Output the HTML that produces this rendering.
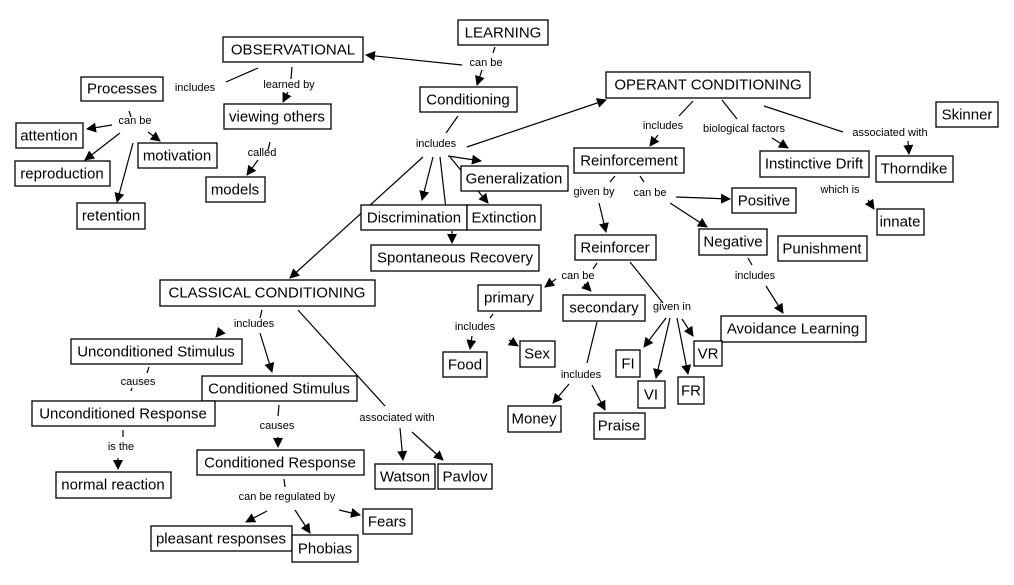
<!DOCTYPE html>
<html><head><meta charset="utf-8"><style>
html,body{margin:0;padding:0;background:#fff;}
svg{display:block}
.n{fill:#fff;stroke:#000;stroke-width:1.3}
.t{font-family:"Liberation Sans",sans-serif;font-size:15px;fill:#000;text-anchor:middle;dominant-baseline:central}
.l{font-family:"Liberation Sans",sans-serif;font-size:11px;fill:#000;text-anchor:middle;dominant-baseline:central}
line{stroke:#000;stroke-width:1.2}
</style></head><body>
<svg width="1014" height="585" viewBox="0 0 1014 585" xmlns="http://www.w3.org/2000/svg">
<defs><marker id="a" markerWidth="10" markerHeight="10" refX="9" refY="5" orient="auto" markerUnits="userSpaceOnUse"><path d="M0,0 L10,5 L0,10 z" fill="#000"/></marker></defs>
<g>
<line x1="495" y1="47" x2="493" y2="53"/>
<line x1="462" y1="65" x2="366" y2="55" marker-end="url(#a)"/>
<line x1="482" y1="70" x2="477" y2="85" marker-end="url(#a)"/>
<line x1="258" y1="68" x2="226" y2="82"/>
<line x1="292" y1="67" x2="291" y2="79"/>
<line x1="288" y1="92" x2="283" y2="102" marker-end="url(#a)"/>
<line x1="129" y1="111" x2="131" y2="117"/>
<line x1="112" y1="125" x2="87" y2="129" marker-end="url(#a)"/>
<line x1="120" y1="133" x2="85" y2="160" marker-end="url(#a)"/>
<line x1="133" y1="143" x2="117" y2="202" marker-end="url(#a)"/>
<line x1="148" y1="132" x2="160" y2="141" marker-end="url(#a)"/>
<line x1="270" y1="142" x2="268" y2="150"/>
<line x1="258" y1="160" x2="247" y2="175" marker-end="url(#a)"/>
<line x1="458" y1="116" x2="446" y2="133"/>
<line x1="467" y1="147" x2="606" y2="100" marker-end="url(#a)"/>
<line x1="448" y1="156" x2="481" y2="161" marker-end="url(#a)"/>
<line x1="450" y1="157" x2="488" y2="203" marker-end="url(#a)"/>
<line x1="433" y1="157" x2="422" y2="200" marker-end="url(#a)"/>
<line x1="440" y1="157" x2="447" y2="218"/>
<line x1="452" y1="231" x2="452" y2="243" marker-end="url(#a)"/>
<line x1="423" y1="157" x2="290" y2="278" marker-end="url(#a)"/>
<line x1="693" y1="101" x2="679" y2="116"/>
<line x1="658" y1="135" x2="650" y2="146" marker-end="url(#a)"/>
<line x1="722" y1="100" x2="737" y2="119"/>
<line x1="772" y1="138" x2="788" y2="148" marker-end="url(#a)"/>
<line x1="764" y1="106" x2="843" y2="132"/>
<line x1="908" y1="141" x2="909" y2="154" marker-end="url(#a)"/>
<line x1="615" y1="176" x2="610" y2="182"/>
<line x1="599" y1="203" x2="606" y2="232" marker-end="url(#a)"/>
<line x1="640" y1="176" x2="644" y2="182"/>
<line x1="676" y1="197" x2="730" y2="199" marker-end="url(#a)"/>
<line x1="670" y1="203" x2="707" y2="227" marker-end="url(#a)"/>
<line x1="868" y1="200" x2="874" y2="209" marker-end="url(#a)"/>
<line x1="597" y1="263" x2="593" y2="269"/>
<line x1="556" y1="279" x2="545" y2="287" marker-end="url(#a)"/>
<line x1="584" y1="284" x2="591" y2="291" marker-end="url(#a)"/>
<line x1="630" y1="262" x2="663" y2="303"/>
<line x1="666" y1="318" x2="644" y2="347" marker-end="url(#a)"/>
<line x1="670" y1="318" x2="656" y2="378" marker-end="url(#a)"/>
<line x1="677" y1="318" x2="688" y2="374" marker-end="url(#a)"/>
<line x1="682" y1="319" x2="693" y2="336" marker-end="url(#a)"/>
<line x1="748" y1="258" x2="752" y2="265"/>
<line x1="766" y1="286" x2="783" y2="313" marker-end="url(#a)"/>
<line x1="493" y1="314" x2="490" y2="318"/>
<line x1="472" y1="336" x2="470" y2="349" marker-end="url(#a)"/>
<line x1="509" y1="340" x2="518" y2="346" marker-end="url(#a)"/>
<line x1="597" y1="322" x2="587" y2="363"/>
<line x1="569" y1="384" x2="553" y2="403" marker-end="url(#a)"/>
<line x1="592" y1="385" x2="605" y2="410" marker-end="url(#a)"/>
<line x1="262" y1="310" x2="260" y2="318"/>
<line x1="222" y1="330" x2="216" y2="337" marker-end="url(#a)"/>
<line x1="260" y1="333" x2="272" y2="372" marker-end="url(#a)"/>
<line x1="298" y1="310" x2="385" y2="406"/>
<line x1="400" y1="428" x2="403" y2="460" marker-end="url(#a)"/>
<line x1="412" y1="432" x2="443" y2="460" marker-end="url(#a)"/>
<line x1="149" y1="367" x2="147" y2="373"/>
<line x1="132" y1="388" x2="131" y2="391"/>
<line x1="279" y1="405" x2="278" y2="416"/>
<line x1="278" y1="437" x2="278" y2="447" marker-end="url(#a)"/>
<line x1="123" y1="430" x2="123" y2="437"/>
<line x1="118" y1="458" x2="118" y2="469" marker-end="url(#a)"/>
<line x1="284" y1="479" x2="285" y2="487"/>
<line x1="267" y1="511" x2="246" y2="522" marker-end="url(#a)"/>
<line x1="295" y1="510" x2="310" y2="533" marker-end="url(#a)"/>
<line x1="339" y1="510" x2="360" y2="515" marker-end="url(#a)"/>
</g>
<g>
<rect class="n" x="458" y="20" width="90" height="25"/><text class="t" x="503" y="33">LEARNING</text>
<rect class="n" x="223" y="37" width="140" height="25"/><text class="t" x="293" y="50">OBSERVATIONAL</text>
<rect class="n" x="420" y="87" width="97" height="25"/><text class="t" x="468" y="100">Conditioning</text>
<rect class="n" x="606" y="72" width="204" height="26"/><text class="t" x="708" y="85">OPERANT CONDITIONING</text>
<rect class="n" x="81" y="77" width="82" height="24"/><text class="t" x="122" y="89">Processes</text>
<rect class="n" x="224" y="104" width="107" height="25"/><text class="t" x="277" y="117">viewing others</text>
<rect class="n" x="16" y="123" width="67" height="25"/><text class="t" x="49" y="136">attention</text>
<rect class="n" x="138" y="143" width="79" height="25"/><text class="t" x="177" y="156">motivation</text>
<rect class="n" x="15" y="161" width="95" height="25"/><text class="t" x="62" y="174">reproduction</text>
<rect class="n" x="77" y="203" width="68" height="26"/><text class="t" x="111" y="216">retention</text>
<rect class="n" x="206" y="177" width="59" height="25"/><text class="t" x="235" y="190">models</text>
<rect class="n" x="461" y="166" width="107" height="25"/><text class="t" x="514" y="179">Generalization</text>
<rect class="n" x="361" y="205" width="106" height="25"/><text class="t" x="414" y="218">Discrimination</text>
<rect class="n" x="467" y="205" width="74" height="25"/><text class="t" x="504" y="218">Extinction</text>
<rect class="n" x="371" y="245" width="168" height="26"/><text class="t" x="455" y="258">Spontaneous Recovery</text>
<rect class="n" x="936" y="102" width="62" height="25"/><text class="t" x="967" y="115">Skinner</text>
<rect class="n" x="574" y="148" width="110" height="25"/><text class="t" x="629" y="161">Reinforcement</text>
<rect class="n" x="760" y="151" width="109" height="26"/><text class="t" x="814" y="164">Instinctive Drift</text>
<rect class="n" x="876" y="156" width="77" height="26"/><text class="t" x="914" y="169">Thorndike</text>
<rect class="n" x="732" y="188" width="64" height="25"/><text class="t" x="764" y="201">Positive</text>
<rect class="n" x="877" y="209" width="47" height="26"/><text class="t" x="900" y="222">innate</text>
<rect class="n" x="575" y="235" width="81" height="25"/><text class="t" x="615" y="248">Reinforcer</text>
<rect class="n" x="699" y="229" width="68" height="26"/><text class="t" x="733" y="242">Negative</text>
<rect class="n" x="778" y="236" width="89" height="25"/><text class="t" x="822" y="249">Punishment</text>
<rect class="n" x="160" y="280" width="215" height="26"/><text class="t" x="267" y="293">CLASSICAL CONDITIONING</text>
<rect class="n" x="478" y="285" width="63" height="26"/><text class="t" x="509" y="298">primary</text>
<rect class="n" x="563" y="295" width="82" height="26"/><text class="t" x="604" y="308">secondary</text>
<rect class="n" x="721" y="316" width="145" height="26"/><text class="t" x="793" y="329">Avoidance Learning</text>
<rect class="n" x="71" y="339" width="171" height="25"/><text class="t" x="156" y="352">Unconditioned Stimulus</text>
<rect class="n" x="443" y="352" width="44" height="25"/><text class="t" x="465" y="365">Food</text>
<rect class="n" x="520" y="341" width="35" height="26"/><text class="t" x="537" y="354">Sex</text>
<rect class="n" x="616" y="350" width="24" height="27"/><text class="t" x="628" y="364">FI</text>
<rect class="n" x="694" y="341" width="28" height="25"/><text class="t" x="708" y="354">VR</text>
<rect class="n" x="202" y="376" width="155" height="25"/><text class="t" x="279" y="389">Conditioned Stimulus</text>
<rect class="n" x="638" y="381" width="27" height="27"/><text class="t" x="651" y="395">VI</text>
<rect class="n" x="678" y="377" width="26" height="27"/><text class="t" x="691" y="391">FR</text>
<rect class="n" x="32" y="401" width="183" height="25"/><text class="t" x="123" y="414">Unconditioned Response</text>
<rect class="n" x="508" y="406" width="53" height="26"/><text class="t" x="534" y="419">Money</text>
<rect class="n" x="594" y="413" width="51" height="26"/><text class="t" x="619" y="426">Praise</text>
<rect class="n" x="197" y="450" width="167" height="25"/><text class="t" x="280" y="463">Conditioned Response</text>
<rect class="n" x="56" y="472" width="115" height="26"/><text class="t" x="113" y="485">normal reaction</text>
<rect class="n" x="375" y="464" width="60" height="25"/><text class="t" x="405" y="477">Watson</text>
<rect class="n" x="438" y="464" width="54" height="25"/><text class="t" x="465" y="477">Pavlov</text>
<rect class="n" x="363" y="509" width="49" height="25"/><text class="t" x="387" y="522">Fears</text>
<rect class="n" x="151" y="526" width="141" height="25"/><text class="t" x="221" y="539">pleasant responses</text>
<rect class="n" x="292" y="535" width="66" height="27"/><text class="t" x="325" y="549">Phobias</text>
</g>
<g>
<text class="l" x="486" y="63">can be</text>
<text class="l" x="195" y="88">includes</text>
<text class="l" x="289" y="85">learned by</text>
<text class="l" x="135" y="121">can be</text>
<text class="l" x="262" y="153">called</text>
<text class="l" x="436" y="144">includes</text>
<text class="l" x="663" y="126">includes</text>
<text class="l" x="744" y="129">biological factors</text>
<text class="l" x="890" y="133">associated with</text>
<text class="l" x="594" y="192">given by</text>
<text class="l" x="650" y="193">can be</text>
<text class="l" x="840" y="190">which is</text>
<text class="l" x="578" y="276">can be</text>
<text class="l" x="672" y="307">given in</text>
<text class="l" x="755" y="276">includes</text>
<text class="l" x="475" y="327">includes</text>
<text class="l" x="254" y="324">includes</text>
<text class="l" x="138" y="382">causes</text>
<text class="l" x="581" y="375">includes</text>
<text class="l" x="397" y="418">associated with</text>
<text class="l" x="277" y="426">causes</text>
<text class="l" x="121" y="447">is the</text>
<text class="l" x="287" y="497">can be regulated by</text>
</g>
</svg>
</body></html>
